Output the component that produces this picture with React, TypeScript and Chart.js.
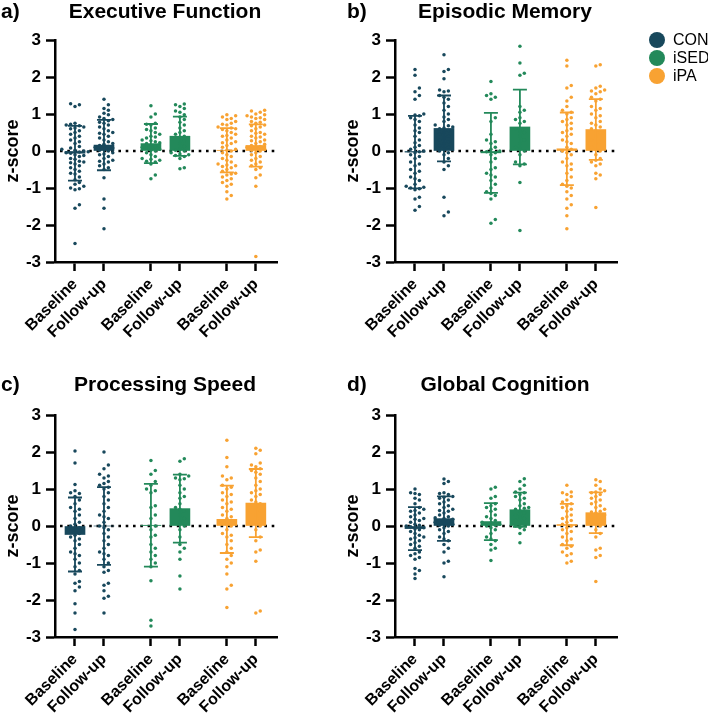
import React, { useEffect, useRef } from 'react';
import { Chart, registerables } from 'chart.js';
Chart.register(...registerables);

const FONT = "'Liberation Sans', Arial, sans-serif";
const GROUPS = ['CON', 'iSED', 'iPA'];
const GROUP_COLORS = ['#18485c', '#23895a', '#f8a232'];
const TIME_LABELS = ['Baseline', 'Follow-up'];
const X_POSITIONS = [0, 1, 2.62, 3.62, 5.24, 6.24];
const Y_TICKS = [-3, -2, -1, 0, 1, 2, 3];
const PANEL_LETTERS = ['a)', 'b)', 'c)', 'd)'];
const PANEL_TITLES = ['Executive Function', 'Episodic Memory', 'Processing Speed', 'Global Cognition'];

// order in each: CON BL, CON FU, iSED BL, iSED FU, iPA BL, iPA FU
const EF_MEANS = [-0.06, 0.16, 0.2, 0.4, 0.02, 0.15];
const EF_SDS = [0.74, 0.68, 0.53, 0.53, 0.6, 0.57];
const EM_MEANS = [-0.03, 0.61, -0.05, 0.65, 0.06, 0.58];
const EM_SDS = [0.98, 0.89, 1.08, 1.01, 0.98, 0.82];
const PS_MEANS = [-0.23, 0.0, 0.02, 0.47, 0.18, 0.62];
const PS_SDS = [1.0, 1.05, 1.12, 0.92, 0.91, 0.92];
const GC_MEANS = [-0.07, 0.2, 0.12, 0.44, 0.04, 0.36];
const GC_SDS = [0.58, 0.6, 0.5, 0.46, 0.56, 0.55];

const EF_CON_BL = [1.28, 1.25, 1.2, 0.75, 0.72, 0.7, 0.68, 0.65, 0.62, 0.6, 0.55, 0.5, 0.45, 0.4, 0.35, 0.3, 0.25, 0.2, 0.12, 0.08, 0.05, 0.02, 0, -0.02, -0.03, -0.05, -0.06, -0.1, -0.12, -0.15, -0.2, -0.22, -0.28, -0.3, -0.32, -0.35, -0.4, -0.45, -0.5, -0.55, -0.6, -0.62, -0.7, -0.78, -0.85, -0.9, -0.95, -1.0, -1.02, -1.05, -1.45, -1.55, -2.5];
const EF_CON_FU = [1.4, 1.25, 1.15, 1.1, 1.02, 0.98, 0.92, 0.88, 0.85, 0.82, 0.78, 0.75, 0.7, 0.65, 0.6, 0.55, 0.5, 0.48, 0.45, 0.4, 0.35, 0.3, 0.25, 0.2, 0.18, 0.15, 0.12, 0.1, 0.08, 0.05, 0.02, 0, -0.05, -0.08, -0.1, -0.15, -0.2, -0.25, -0.28, -0.3, -0.35, -0.4, -0.45, -0.5, -0.72, -1.3, -1.55, -2.1];
const EF_ISED_BL = [1.22, 1.0, 0.92, 0.75, 0.72, 0.7, 0.62, 0.58, 0.55, 0.5, 0.45, 0.4, 0.38, 0.35, 0.3, 0.28, 0.25, 0.22, 0.2, 0.15, 0.12, 0.1, 0.08, 0.05, 0.02, 0, -0.05, -0.1, -0.15, -0.2, -0.22, -0.25, -0.28, -0.3, -0.35, -0.65, -0.75];
const EF_ISED_FU = [1.27, 1.25, 1.2, 1.15, 1.08, 1.05, 0.98, 0.92, 0.85, 0.78, 0.7, 0.62, 0.55, 0.5, 0.45, 0.4, 0.35, 0.28, 0.2, 0.12, 0.05, 0.02, 0, -0.05, -0.08, -0.1, -0.12, -0.15, -0.2, -0.45, -0.48];
const EF_IPA_BL = [0.98, 0.95, 0.92, 0.88, 0.85, 0.8, 0.75, 0.72, 0.7, 0.65, 0.62, 0.6, 0.58, 0.55, 0.5, 0.45, 0.42, 0.4, 0.35, 0.3, 0.25, 0.22, 0.2, 0.15, 0.1, 0.05, 0.02, 0, -0.05, -0.1, -0.15, -0.2, -0.25, -0.3, -0.35, -0.38, -0.4, -0.42, -0.45, -0.5, -0.55, -0.6, -0.62, -0.65, -0.7, -0.75, -0.8, -0.85, -0.9, -0.95, -1.1, -1.2, -1.3];
const EF_IPA_FU = [1.1, 1.08, 1.05, 1.0, 0.98, 0.95, 0.92, 0.9, 0.88, 0.85, 0.8, 0.78, 0.75, 0.7, 0.68, 0.65, 0.6, 0.55, 0.5, 0.48, 0.45, 0.4, 0.38, 0.35, 0.3, 0.28, 0.25, 0.2, 0.18, 0.15, 0.12, 0.1, 0.08, 0.05, 0.02, 0, -0.05, -0.1, -0.15, -0.2, -0.25, -0.3, -0.35, -0.4, -0.45, -0.5, -0.65, -0.72, -0.95, -2.85];

const EM_CON_BL = [2.2, 2.05, 1.7, 1.6, 1.5, 1.4, 1.0, 0.97, 0.95, 0.9, 0.85, 0.8, 0.7, 0.62, 0.55, 0.5, 0.4, 0.3, 0.22, 0.15, 0.1, 0.05, 0.0, -0.02, -0.05, -0.1, -0.15, -0.2, -0.3, -0.35, -0.4, -0.5, -0.55, -0.6, -0.7, -0.75, -0.8, -0.9, -0.95, -0.98, -1.0, -1.02, -1.05, -1.25, -1.3, -1.5, -1.6];
const EM_CON_FU = [2.6, 2.2, 2.15, 1.95, 1.65, 1.62, 1.6, 1.5, 1.45, 1.4, 1.3, 1.2, 1.1, 1.0, 0.92, 0.85, 0.8, 0.7, 0.68, 0.65, 0.62, 0.6, 0.55, 0.5, 0.45, 0.4, 0.35, 0.3, 0.25, 0.2, 0.15, 0.1, 0.05, 0.0, -0.05, -0.1, -0.2, -0.3, -0.4, -0.5, -1.25, -1.65, -1.75];
const EM_ISED_BL = [1.88, 1.55, 1.5, 1.45, 1.4, 0.9, 0.8, 0.45, 0.3, 0.25, 0.2, 0.1, 0.05, 0.0, -0.02, -0.05, -0.1, -0.2, -0.3, -0.45, -0.5, -0.6, -0.65, -0.7, -0.8, -0.9, -1.0, -1.1, -1.15, -1.2, -1.3, -1.85, -1.95];
const EM_ISED_FU = [2.83, 2.38, 2.1, 2.05, 1.2, 1.1, 1.05, 0.9, 0.85, 0.8, 0.75, 0.6, 0.55, 0.5, 0.4, 0.3, 0.2, 0.1, 0.05, 0.0, -0.1, -0.3, -0.35, -0.4, -0.85, -2.15];
const EM_IPA_BL = [2.45, 2.3, 1.77, 1.7, 1.45, 1.35, 1.2, 1.1, 1.05, 1.0, 0.9, 0.85, 0.8, 0.75, 0.7, 0.6, 0.55, 0.5, 0.45, 0.4, 0.3, 0.25, 0.2, 0.1, 0.05, 0.0, -0.05, -0.1, -0.2, -0.3, -0.35, -0.4, -0.5, -0.6, -0.7, -0.8, -0.9, -0.95, -1.0, -1.1, -1.2, -1.3, -1.45, -1.55, -1.75, -2.1];
const EM_IPA_FU = [2.33, 2.3, 1.75, 1.7, 1.65, 1.62, 1.6, 1.55, 1.45, 1.4, 1.35, 1.2, 1.15, 1.1, 1.0, 0.95, 0.9, 0.8, 0.75, 0.7, 0.65, 0.6, 0.55, 0.5, 0.4, 0.3, 0.25, 0.2, 0.1, 0.05, 0.0, -0.1, -0.2, -0.25, -0.3, -0.35, -0.4, -0.6, -0.65, -0.75, -1.53];

const PS_CON_BL = [2.03, 1.7, 1.12, 0.95, 0.9, 0.88, 0.8, 0.7, 0.6, 0.5, 0.45, 0.4, 0.3, 0.2, 0.1, 0.05, 0.0, -0.05, -0.1, -0.15, -0.2, -0.25, -0.3, -0.35, -0.4, -0.5, -0.6, -0.7, -0.75, -0.8, -0.9, -1.0, -1.1, -1.2, -1.3, -1.5, -1.55, -1.65, -1.75, -2.1, -2.35, -2.8];
const PS_CON_FU = [2.0, 1.65, 1.55, 1.4, 1.35, 1.3, 1.2, 1.15, 1.1, 1.05, 1.0, 0.9, 0.8, 0.7, 0.6, 0.5, 0.4, 0.3, 0.25, 0.2, 0.1, 0.0, -0.05, -0.1, -0.2, -0.3, -0.4, -0.5, -0.6, -0.7, -0.75, -0.8, -0.9, -1.0, -1.1, -1.2, -1.25, -1.55, -1.6, -1.75, -1.9, -1.95, -2.35];
const PS_ISED_BL = [1.77, 1.5, 1.4, 1.2, 1.1, 1.0, 0.95, 0.9, 0.55, 0.5, 0.3, 0.2, 0.0, -0.1, -0.25, -0.3, -0.5, -0.6, -0.7, -0.8, -0.9, -1.0, -1.1, -1.48, -2.55, -2.7];
const PS_ISED_FU = [1.82, 1.75, 1.4, 1.35, 1.3, 1.28, 1.25, 1.1, 1.0, 0.9, 0.8, 0.75, 0.6, 0.5, 0.45, 0.4, 0.3, 0.2, 0.1, 0.0, -0.1, -0.3, -0.5, -0.6, -0.7, -0.9, -1.35, -1.7];
const PS_IPA_BL = [2.32, 1.85, 1.6, 1.35, 1.3, 1.25, 1.1, 1.05, 1.0, 0.9, 0.85, 0.8, 0.7, 0.65, 0.6, 0.5, 0.45, 0.4, 0.3, 0.25, 0.2, 0.1, 0.05, 0.0, -0.1, -0.2, -0.25, -0.3, -0.4, -0.5, -0.6, -0.7, -0.8, -0.9, -1.0, -1.1, -1.3, -1.6, -1.7, -2.2];
const PS_IPA_FU = [2.1, 2.05, 1.95, 1.7, 1.65, 1.6, 1.55, 1.5, 1.45, 1.4, 1.3, 1.2, 1.1, 1.0, 0.95, 0.9, 0.85, 0.8, 0.7, 0.65, 0.6, 0.5, 0.4, 0.3, 0.2, 0.1, 0.0, -0.1, -0.3, -0.4, -0.65, -0.7, -0.95, -2.3, -2.35];

const GC_CON_BL = [1.0, 0.9, 0.88, 0.85, 0.75, 0.7, 0.6, 0.5, 0.45, 0.42, 0.4, 0.35, 0.3, 0.25, 0.2, 0.18, 0.15, 0.1, 0.05, 0.02, 0.0, -0.02, -0.05, -0.08, -0.1, -0.15, -0.2, -0.25, -0.3, -0.32, -0.35, -0.4, -0.45, -0.5, -0.55, -0.6, -0.7, -0.75, -0.8, -0.85, -0.9, -1.15, -1.2, -1.3, -1.42];
const GC_CON_FU = [1.27, 1.2, 1.15, 0.9, 0.88, 0.85, 0.8, 0.78, 0.75, 0.7, 0.65, 0.6, 0.55, 0.5, 0.45, 0.42, 0.4, 0.35, 0.3, 0.25, 0.22, 0.2, 0.18, 0.15, 0.12, 0.1, 0.08, 0.05, 0.02, 0.0, -0.05, -0.1, -0.15, -0.2, -0.3, -0.35, -0.4, -0.5, -0.6, -0.7, -0.95, -1.0, -1.37];
const GC_ISED_BL = [1.05, 1.0, 0.8, 0.75, 0.6, 0.55, 0.5, 0.45, 0.4, 0.3, 0.25, 0.2, 0.15, 0.1, 0.08, 0.05, 0.02, 0.0, -0.05, -0.1, -0.2, -0.3, -0.35, -0.4, -0.5, -0.6, -0.65, -0.93];
const GC_ISED_FU = [1.28, 1.2, 1.1, 1.0, 0.92, 0.9, 0.85, 0.8, 0.75, 0.7, 0.6, 0.55, 0.5, 0.48, 0.45, 0.4, 0.35, 0.3, 0.25, 0.2, 0.15, 0.1, 0.05, 0.0, -0.05, -0.1, -0.2, -0.45];
const GC_IPA_BL = [1.1, 0.92, 0.9, 0.85, 0.8, 0.7, 0.65, 0.6, 0.55, 0.5, 0.45, 0.4, 0.3, 0.25, 0.2, 0.15, 0.1, 0.05, 0.0, -0.05, -0.1, -0.15, -0.2, -0.3, -0.35, -0.4, -0.5, -0.55, -0.6, -0.7, -0.75, -0.8, -0.95, -1.0];
const GC_IPA_FU = [1.25, 1.2, 1.1, 1.0, 0.95, 0.92, 0.9, 0.85, 0.8, 0.75, 0.7, 0.65, 0.6, 0.55, 0.5, 0.45, 0.4, 0.38, 0.35, 0.3, 0.28, 0.25, 0.2, 0.15, 0.1, 0.05, 0.0, -0.1, -0.2, -0.3, -0.6, -0.65, -0.8, -0.85, -1.5];

const PANELS = [
  { means: EF_MEANS, sds: EF_SDS, points: [EF_CON_BL, EF_CON_FU, EF_ISED_BL, EF_ISED_FU, EF_IPA_BL, EF_IPA_FU] },
  { means: EM_MEANS, sds: EM_SDS, points: [EM_CON_BL, EM_CON_FU, EM_ISED_BL, EM_ISED_FU, EM_IPA_BL, EM_IPA_FU] },
  { means: PS_MEANS, sds: PS_SDS, points: [PS_CON_BL, PS_CON_FU, PS_ISED_BL, PS_ISED_FU, PS_IPA_BL, PS_IPA_FU] },
  { means: GC_MEANS, sds: GC_SDS, points: [GC_CON_BL, GC_CON_FU, GC_ISED_BL, GC_ISED_FU, GC_IPA_BL, GC_IPA_FU] },
];

const X_MIN = -0.69;
const X_MAX = 6.97;
const PX_PER_X = 29;
const PX_PER_Y = 37;
const DOT_GAP = 4.4;

// deterministic beeswarm layout of the dots around each category centre
function swarm(values: number[], center: number) {
  const sorted = [...values].sort((a, b) => a - b);
  const placed: { x: number; y: number }[] = [];
  const out: { x: number; y: number }[] = [];
  for (const v of sorted) {
    const py = v * PX_PER_Y;
    let ox = 0;
    for (let step = 0; step < 60; step++) {
      const k = Math.ceil(step / 2);
      const cand = step === 0 ? 0 : (step % 2 === 1 ? k : -k) * DOT_GAP;
      const hit = placed.some((p) => Math.hypot(p.x - cand, p.y - py) < DOT_GAP * 0.97);
      if (!hit) { ox = cand; break; }
    }
    placed.push({ x: ox, y: py });
    out.push({ x: center + ox / PX_PER_X, y: v });
  }
  return out;
}

function colorOf(i: number) {
  return GROUP_COLORS[Math.floor(i / 2)];
}

function ChartPanel({ idx }: { idx: number }) {
  const ref = useRef<HTMLCanvasElement | null>(null);
  useEffect(() => {
    const panel = PANELS[idx];
    const canvas = ref.current!;
    const decor = {
      id: 'decor',
      beforeDatasetsDraw(chart: any) {
        const { ctx, chartArea } = chart;
        const y0 = chart.scales.y.getPixelForValue(0);
        ctx.save();
        ctx.strokeStyle = '#000';
        ctx.lineWidth = 2.6;
        ctx.setLineDash([2.6, 4.7]);
        ctx.beginPath();
        ctx.moveTo(chartArea.left + 5, y0);
        ctx.lineTo(chartArea.right, y0);
        ctx.stroke();
        ctx.restore();
      },
      afterDatasetsDraw(chart: any) {
        const { ctx } = chart;
        const xs = chart.scales.x;
        const ys = chart.scales.y;
        ctx.save();
        X_POSITIONS.forEach((pos, i) => {
          const x = xs.getPixelForValue(pos);
          const m = panel.means[i];
          const s = panel.sds[i];
          const yt = ys.getPixelForValue(m + s);
          const yb = ys.getPixelForValue(m - s);
          ctx.strokeStyle = colorOf(i);
          ctx.lineWidth = 1.8;
          ctx.beginPath();
          ctx.moveTo(x, yt);
          ctx.lineTo(x, yb);
          ctx.moveTo(x - 7, yt);
          ctx.lineTo(x + 7, yt);
          ctx.moveTo(x - 7, yb);
          ctx.lineTo(x + 7, yb);
          ctx.stroke();
        });
        ctx.restore();
      },
    };
    const datasets: any[] = [
      {
        type: 'bar',
        data: X_POSITIONS.map((x, i) => ({ x, y: panel.means[i] })),
        backgroundColor: X_POSITIONS.map((_, i) => colorOf(i)),
        barThickness: 20,
        order: 3,
      },
    ];
    panel.points.forEach((vals, i) => {
      datasets.push({
        type: 'scatter',
        data: swarm(vals, X_POSITIONS[i]),
        backgroundColor: colorOf(i),
        borderWidth: 0,
        pointRadius: 1.75,
        pointHoverRadius: 1.75,
        order: 1,
      });
    });
    const chart = new Chart(canvas, {
      type: 'bar',
      data: { datasets },
      plugins: [decor],
      options: {
        responsive: false,
        animation: false,
        devicePixelRatio: 1,
        layout: { padding: { top: 40, right: 63, bottom: 0, left: 0 } },
        plugins: { legend: { display: false }, tooltip: { enabled: false } },
        scales: {
          x: {
            type: 'linear',
            min: X_MIN,
            max: X_MAX,
            offset: false,
            bounds: 'data',
            grid: { display: true, drawOnChartArea: false, drawTicks: true, tickLength: 9, tickWidth: 2.5, tickColor: '#000', offset: false },
            border: { display: true, color: '#000', width: 2.5 },
            afterBuildTicks: (scale: any) => {
              scale.ticks = X_POSITIONS.map((v) => ({ value: v }));
            },
            afterFit: (scale: any) => {
              scale.height = 113;
              scale.paddingLeft = 0;
              scale.paddingRight = 0;
            },
            ticks: {
              autoSkip: false,
              minRotation: 45,
              maxRotation: 45,
              padding: 4,
              color: '#000',
              font: { family: FONT, size: 16, weight: 'bold' },
              callback: (_v: any, i: number) => TIME_LABELS[i % 2],
            },
          },
          y: {
            type: 'linear',
            min: -3,
            max: 3,
            grid: { display: true, drawOnChartArea: false, drawTicks: true, tickLength: 9, tickWidth: 2.5, tickColor: '#000' },
            border: { display: true, color: '#000', width: 2.5 },
            afterBuildTicks: (scale: any) => {
              scale.ticks = Y_TICKS.map((v) => ({ value: v }));
            },
            afterFit: (scale: any) => {
              scale.width = 55;
              scale.paddingTop = 0;
              scale.paddingBottom = 0;
            },
            title: {
              display: true,
              text: 'z-score',
              color: '#000',
              padding: { top: 2, bottom: 0 },
              font: { family: FONT, size: 18, weight: 'bold' },
            },
            ticks: {
              padding: 5,
              color: '#000',
              font: { family: FONT, size: 17, weight: 'bold' },
              callback: (v: any) => String(v),
            },
          },
        },
      } as any,
    });
    return () => chart.destroy();
  }, [idx]);

  const left = (idx % 2) * 340;
  const top = Math.floor(idx / 2) * 375;
  const titleTop = idx < 2 ? 0 : -2;
  return (
    <div style={{ position: 'absolute', left, top, width: 340, height: 375 }}>
      <canvas ref={ref} width={340} height={375} style={{ position: 'absolute', left: 0, top: 0 }} />
      <div style={{ position: 'absolute', left: idx % 2 === 0 ? 1 : 7, top: titleTop, fontSize: 21, lineHeight: '21px', fontWeight: 'bold', whiteSpace: 'nowrap' }}>
        {PANEL_LETTERS[idx]}
      </div>
      <div style={{ position: 'absolute', left: 165 - 150, width: 300, top: titleTop, textAlign: 'center', fontSize: 21, lineHeight: '21px', fontWeight: 'bold', whiteSpace: 'nowrap' }}>
        {PANEL_TITLES[idx]}
      </div>
    </div>
  );
}

export default function App() {
  return (
    <div style={{ position: 'absolute', left: 0, top: 0, width: 708, height: 716, background: '#fff', fontFamily: FONT, color: '#000', overflow: 'hidden' }}>
      {PANELS.map((_, i) => (
        <ChartPanel key={i} idx={i} />
      ))}
      {GROUPS.map((g, i) => (
        <div key={g} style={{ position: 'absolute', left: 649, top: 32 + i * 18, height: 16, display: 'flex', alignItems: 'center' }}>
          <div style={{ width: 16, height: 16, borderRadius: 8, background: GROUP_COLORS[i] }} />
          <div style={{ marginLeft: 8, fontSize: 16, lineHeight: '16px' }}>{g}</div>
        </div>
      ))}
    </div>
  );
}
